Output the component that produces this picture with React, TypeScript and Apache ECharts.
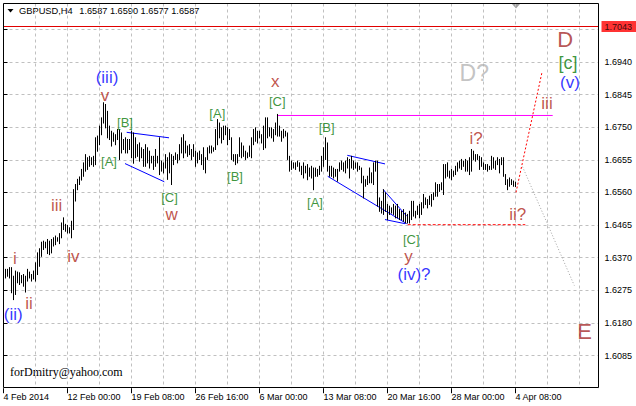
import React, { useEffect, useRef } from "react";
import * as echarts from "echarts";

// ---------- data ----------
const symbolName = "GBPUSD,H4";
const lastBarOHLC = [1.6587, 1.659, 1.6577, 1.6587];

const firstBarIndex = 1; // H4 bar number (4 Feb 2014 00:00 = 0)
const barHighs = [
  1.6336, 1.6336, 1.6341, 1.6341, 1.6316, 1.6331, 1.6328, 1.6326, 1.6318, 1.6321,
  1.6316, 1.6336, 1.6328, 1.6321, 1.6331, 1.6355, 1.6384, 1.6396, 1.6415, 1.6418,
  1.6415, 1.6423, 1.6418, 1.6423, 1.6428, 1.6433, 1.6428, 1.644, 1.6471, 1.6486,
  1.6467, 1.6464, 1.6457, 1.6476, 1.6568, 1.6583, 1.6598, 1.6605, 1.6627, 1.6646,
  1.667, 1.6661, 1.6665, 1.6661, 1.6665, 1.6719, 1.6724, 1.6753, 1.6777, 1.6821,
  1.6816, 1.6796, 1.6753, 1.6738, 1.6733, 1.6728, 1.6743, 1.6743, 1.6733, 1.6714,
  1.6719, 1.6714, 1.6714, 1.6738, 1.6733, 1.6719, 1.6699, 1.6704, 1.669, 1.6685,
  1.6699, 1.669, 1.668, 1.6665, 1.6665, 1.6685, 1.6665, 1.6719, 1.6651, 1.6646,
  1.667, 1.6661, 1.6675, 1.667, 1.6665, 1.6675, 1.667, 1.6699, 1.6719, 1.6728,
  1.6709, 1.6695, 1.6699, 1.6685, 1.6699, 1.668, 1.6675, 1.668, 1.667, 1.669,
  1.6661, 1.669, 1.6695, 1.6695, 1.669, 1.6743, 1.6772, 1.6762, 1.6748, 1.6753,
  1.6753, 1.6748, 1.6743, 1.6719, 1.667, 1.667, 1.667, 1.6719, 1.6704, 1.6695,
  1.668, 1.6675, 1.6695, 1.6719, 1.6743, 1.6748, 1.6738, 1.6738, 1.6728, 1.6753,
  1.6777, 1.6777, 1.6748, 1.6748, 1.6743, 1.6762, 1.6787, 1.6753, 1.6738, 1.6743,
  1.6738, 1.6733, 1.6665, 1.6651, 1.6646, 1.6646, 1.6651, 1.6646, 1.6636, 1.6646,
  1.6636, 1.6641, 1.6631, 1.6636, 1.6631, 1.6631, 1.6627, 1.6636, 1.6665, 1.669,
  1.6719, 1.6704, 1.6636, 1.6636, 1.6631, 1.6627, 1.6627, 1.6646, 1.6651, 1.6646,
  1.6651, 1.6661, 1.6656, 1.6665, 1.6651, 1.6646, 1.6646, 1.6636, 1.6631, 1.6607,
  1.6597, 1.6607, 1.6631, 1.6617, 1.6646, 1.6651, 1.6651, 1.6544, 1.6534, 1.6568,
  1.6559, 1.6525, 1.652, 1.6515, 1.6525, 1.652, 1.6525, 1.651, 1.6505, 1.651,
  1.65, 1.6496, 1.6505, 1.6534, 1.6534, 1.6505, 1.652, 1.6525, 1.653, 1.6554,
  1.6544, 1.6539, 1.6549, 1.6554, 1.6559, 1.6588, 1.6583, 1.6583, 1.6588, 1.6641,
  1.6641, 1.6646, 1.6622, 1.6627, 1.6622, 1.6636, 1.6646, 1.6651, 1.6656, 1.6651,
  1.6656, 1.6651, 1.6661, 1.6685, 1.668, 1.667, 1.667, 1.6665, 1.6661, 1.6646,
  1.6641, 1.6641, 1.6636, 1.6665, 1.6661, 1.6651, 1.6661, 1.6656, 1.6661, 1.6661,
  1.6612, 1.6597, 1.6602, 1.6597, 1.6593, 1.659,
];
const barLows = [
  1.6311, 1.6316, 1.6311, 1.6268, 1.6248, 1.6263, 1.6297, 1.6292, 1.6297, 1.6287,
  1.627, 1.6302, 1.6311, 1.6302, 1.6308, 1.6302, 1.6321, 1.6345, 1.6374, 1.6394,
  1.6399, 1.6382, 1.6379, 1.6384, 1.6404, 1.6408, 1.6418, 1.6411, 1.6428, 1.6452,
  1.6447, 1.6442, 1.6442, 1.6428, 1.6452, 1.6535, 1.6568, 1.6583, 1.6596, 1.6607,
  1.6622, 1.6627, 1.6636, 1.6641, 1.6636, 1.6641, 1.668, 1.6699, 1.6728, 1.6762,
  1.6748, 1.6719, 1.6714, 1.6695, 1.6709, 1.6699, 1.6714, 1.6656, 1.6675, 1.6685,
  1.6675, 1.6675, 1.6685, 1.6661, 1.6645, 1.6661, 1.6665, 1.6651, 1.6661, 1.6636,
  1.6636, 1.6646, 1.6631, 1.6646, 1.6627, 1.6636, 1.6646, 1.6612, 1.6622, 1.6617,
  1.6631, 1.6598, 1.6617, 1.6583, 1.6641, 1.6656, 1.6646, 1.6656, 1.6675, 1.6661,
  1.6675, 1.6665, 1.667, 1.6656, 1.6665, 1.6636, 1.6646, 1.6656, 1.6641, 1.6627,
  1.6617, 1.6656, 1.6675, 1.6675, 1.668, 1.6685, 1.6699, 1.6719, 1.6704, 1.6714,
  1.6728, 1.6699, 1.6714, 1.6656, 1.6651, 1.6641, 1.6646, 1.6665, 1.6661, 1.6665,
  1.6656, 1.6661, 1.6665, 1.6661, 1.6699, 1.6709, 1.6704, 1.6719, 1.6704, 1.6685,
  1.669, 1.6719, 1.6724, 1.6719, 1.6709, 1.6728, 1.6724, 1.6724, 1.6709, 1.6719,
  1.6724, 1.6656, 1.6622, 1.6627, 1.6631, 1.6627, 1.6636, 1.6622, 1.6612, 1.6602,
  1.6617, 1.6597, 1.6607, 1.6602, 1.6568, 1.6607, 1.6607, 1.6612, 1.6622, 1.6636,
  1.6656, 1.6622, 1.6607, 1.6607, 1.6602, 1.6607, 1.6593, 1.6622, 1.6627, 1.6622,
  1.6617, 1.6631, 1.6602, 1.6631, 1.6627, 1.6631, 1.6622, 1.6627, 1.6588, 1.6544,
  1.6578, 1.6583, 1.6588, 1.6588, 1.6583, 1.6622, 1.652, 1.6505, 1.65, 1.6496,
  1.6505, 1.6481, 1.6496, 1.65, 1.6496, 1.6486, 1.6486, 1.6481, 1.6481, 1.6476,
  1.6471, 1.6471, 1.6471, 1.6481, 1.6491, 1.6486, 1.6496, 1.6486, 1.6496, 1.6515,
  1.6525, 1.6515, 1.6525, 1.652, 1.6539, 1.6549, 1.6549, 1.6563, 1.6568, 1.6554,
  1.6602, 1.6607, 1.6602, 1.6597, 1.6607, 1.6612, 1.6622, 1.6631, 1.6627, 1.6636,
  1.6622, 1.6622, 1.6612, 1.6622, 1.6656, 1.6651, 1.6656, 1.6627, 1.6636, 1.6627,
  1.6627, 1.6622, 1.6627, 1.6627, 1.6631, 1.6627, 1.6641, 1.6617, 1.6641, 1.6607,
  1.6583, 1.6568, 1.6578, 1.6583, 1.6578, 1.6577,
];

const dateTickLabels = [
  "4 Feb 2014",
  "12 Feb 00:00",
  "19 Feb 08:00",
  "26 Feb 16:00",
  "6 Mar 00:00",
  "13 Mar 08:00",
  "20 Mar 16:00",
  "28 Mar 00:00",
  "4 Apr 08:00",
];
const dateTickStep = 32; // bars between date labels
const gridStep = 16; // bars between vertical grid lines
const barSlots = 297.5; // visible bar slots incl. right shift
const priceMin = 1.599;
const priceMax = 1.711;
const priceTickStep = 0.0095;

const priceLineLevel = 1.7043;

const waveLabels = [
  { text: "(iii)", k: 51.75, price: 1.6896, kind: "degree" },
  { text: "v", k: 50.75, price: 1.6841, kind: "wave" },
  { text: "[B]", k: 60.75, price: 1.6764, kind: "sub" },
  { text: "[A]", k: 52.75, price: 1.6649, kind: "sub" },
  { text: "[C]", k: 83, price: 1.6546, kind: "sub" },
  { text: "w", k: 84.1, price: 1.6496, kind: "wave" },
  { text: "[A]", k: 106.9, price: 1.679, kind: "sub" },
  { text: "[B]", k: 115.75, price: 1.6606, kind: "sub" },
  { text: "x", k: 135.9, price: 1.6882, kind: "wave" },
  { text: "[C]", k: 136.9, price: 1.6826, kind: "sub" },
  { text: "[B]", k: 161.6, price: 1.675, kind: "sub" },
  { text: "[A]", k: 155.75, price: 1.6532, kind: "sub" },
  { text: "[C]", k: 203.9, price: 1.6422, kind: "sub" },
  { text: "y", k: 202.5, price: 1.6373, kind: "wave" },
  { text: "(iv)?", k: 205.25, price: 1.6322, kind: "degree" },
  { text: "i?", k: 236.25, price: 1.6717, kind: "wave" },
  { text: "ii?", k: 257.1, price: 1.6497, kind: "wave" },
  { text: "iii", k: 271.75, price: 1.6818, kind: "wave" },
  { text: "D?", k: 235.4, price: 1.6908, kind: "ghost" },
  { text: "D", k: 280.9, price: 1.7005, kind: "major" },
  { text: "[c]", k: 282.25, price: 1.6937, kind: "subMajor" },
  { text: "(v)", k: 283.25, price: 1.6881, kind: "degree" },
  { text: "E", k: 290.6, price: 1.6156, kind: "major" },
  { text: "iii", k: 26.6, price: 1.6523, kind: "wave" },
  { text: "iv", k: 34.9, price: 1.6373, kind: "wave" },
  { text: "i", k: 5.75, price: 1.6368, kind: "wave" },
  { text: "ii", k: 12.75, price: 1.6238, kind: "wave" },
  { text: "(ii)", k: 4.9, price: 1.6204, kind: "degree" },
];

const trendLines = [
  { from: [61.6, 1.6735], to: [82.75, 1.6719], kind: "channel" },
  { from: [60.75, 1.6644], to: [80.4, 1.6591], kind: "channel" },
  { from: [171.9, 1.6668], to: [190.75, 1.6643], kind: "channel" },
  { from: [162.1, 1.6607], to: [201.6, 1.6469], kind: "channel" },
  { from: [189.9, 1.6568], to: [201.6, 1.6491], kind: "channel" },
  { from: [190.75, 1.6481], to: [200.75, 1.6469], kind: "channel" },
  { from: [137, 1.6784], to: [274.6, 1.6784], kind: "resistance" },
  { from: [202.1, 1.6466], to: [260.9, 1.6466], kind: "support" },
  { from: [256.25, 1.656], to: [269.25, 1.691], kind: "forecastUp" },
  { from: [259.5, 1.6635], to: [285.4, 1.6289], kind: "forecastDown" },
];

const creditText = "forDmitry@yahoo.com";

// ---------- component ----------
export default function App() {
  const ref = useRef<HTMLDivElement>(null);

  useEffect(() => {
    document.body.style.margin = "0";
    const chart = echarts.init(ref.current!, null, { renderer: "svg" });
    const FONT = "Liberation Sans";
    const PX_PER_PRICE = 3435;

    const lineStyles: Record<string, any> = {
      channel: { color: "#0000ff", width: 1, type: "solid" },
      resistance: { color: "#ff00ff", width: 1, type: "solid" },
      support: { color: "#ff0000", width: 1, type: [3, 2] },
      forecastUp: { color: "#ff0000", width: 1, type: [2, 2] },
      forecastDown: { color: "#a0a0a0", width: 1, type: [1, 2] },
    };
    const labelStyles: Record<string, any> = {
      wave: { color: "#b02a20", fontSize: 17 },
      degree: { color: "#0000ff", fontSize: 17 },
      sub: { color: "#0a7a0a", fontSize: 13 },
      subMajor: { color: "#0a7a0a", fontSize: 18 },
      major: { color: "#a52a2a", fontSize: 22 },
      ghost: { color: "#b4b4b4", fontSize: 23 },
    };

    const barData = barHighs.map((h, i) => [firstBarIndex + i, h, barLows[i]]);
    const xTickValues = dateTickLabels.map((_, i) => i * dateTickStep);

    const series: any[] = [
      {
        type: "custom",
        data: barData,
        encode: { x: 0, y: [1, 2] },
        z: 5,
        silent: true,
        renderItem: (_params: any, api: any) => {
          const top = api.coord([api.value(0), api.value(1)]);
          const bottom = api.coord([api.value(0), api.value(2)]);
          return {
            type: "line",
            shape: { x1: top[0], y1: top[1] - 0.5, x2: bottom[0], y2: bottom[1] + 0.5 },
            style: { stroke: "#000", lineWidth: 1 },
          };
        },
      },
      ...trendLines.map((t) => ({
        type: "line",
        data: [t.from, t.to],
        symbol: "none",
        silent: true,
        z: 4,
        lineStyle: lineStyles[t.kind],
      })),
      {
        type: "line",
        data: [
          [0, priceLineLevel],
          [barSlots + 1.5, priceLineLevel],
        ],
        symbol: "none",
        silent: true,
        clip: false,
        z: 4,
        lineStyle: { color: "#e00000", width: 1 },
      },
      {
        type: "scatter",
        data: waveLabels.map((l) => ({
          value: [l.k, l.price],
          label: {
            show: true,
            position: "inside",
            formatter: l.text,
            fontFamily: FONT,
            ...labelStyles[l.kind],
          },
        })),
        symbolSize: 1,
        itemStyle: { color: "rgba(0,0,0,0)" },
        silent: true,
        z: 6,
      },
      {
        type: "scatter",
        clip: false,
        data: [[barSlots, priceLineLevel]],
        symbolSize: 1,
        itemStyle: { color: "rgba(0,0,0,0)" },
        silent: true,
        z: 20,
        label: {
          show: true,
          position: "right",
          distance: 2.5,
          formatter: priceLineLevel.toFixed(4),
          backgroundColor: "#ff0000",
          color: "#000",
          fontSize: 9,
          fontFamily: FONT,
          lineHeight: 10,
          padding: [1, 5, 0, 3],
        },
      },
    ];

    chart.setOption({
      animation: false,
      backgroundColor: "#ffffff",
      grid: {
        left: 3.5,
        top: 3.5,
        width: 595,
        height: (priceMax - priceMin) * PX_PER_PRICE,
        show: false,
      },
      xAxis: [
        {
          type: "value",
          min: 0,
          max: barSlots,
          interval: gridStep,
          axisLine: { show: false },
          axisTick: { show: false },
          axisLabel: { show: false },
          splitLine: { show: true, lineStyle: { color: "#c0c0c0", type: [3, 3], width: 1 } },
        },
        {
          type: "value",
          min: 0,
          max: barSlots,
          interval: dateTickStep,
          position: "bottom",
          axisLine: { show: false },
          axisTick: { show: true, length: 5, lineStyle: { color: "#000" }, customValues: xTickValues },
          axisLabel: {
            customValues: xTickValues,
            formatter: (v: number) =>
              Math.abs(v % dateTickStep) < 1e-6 ? dateTickLabels[Math.round(v / dateTickStep)] ?? "" : "",
            align: "left",
            margin: 4,
            fontSize: 9,
            fontFamily: FONT,
            color: "#000",
          },
          splitLine: { show: false },
        },
      ],
      yAxis: {
        type: "value",
        position: "right",
        min: priceMin,
        max: priceMax,
        interval: priceTickStep,
        axisLine: { show: false },
        axisTick: { show: true, length: 4, lineStyle: { color: "#000" } },
        axisLabel: {
          margin: 6,
          fontSize: 9,
          fontFamily: FONT,
          color: "#000",
          showMinLabel: false,
          showMaxLabel: false,
          formatter: (v: number) => (v > 1.7 || v < 1.6 ? "" : v.toFixed(4)),
        },
        splitLine: {
          show: true,
          showMinLine: false,
          showMaxLine: false,
          lineStyle: { color: "#c0c0c0", type: [3, 3], width: 1 },
        },
      },
      graphic: [
        {
          type: "rect",
          shape: { x: 3.5, y: 3.5, width: 595, height: 384 },
          style: { fill: "none", stroke: "#000", lineWidth: 1 },
          z: 100,
          silent: true,
        },
        {
          type: "polygon",
          shape: { points: [[7.5, 9], [13.5, 9], [10.5, 12.5]] },
          style: { fill: "#000" },
          silent: true,
        },
        {
          type: "text",
          x: 19,
          y: 10.7,
          style: {
            text: symbolName,
            fontSize: 9.3,
            fontFamily: FONT,
            fill: "#000",
            verticalAlign: "middle",
            align: "left",
          },
          silent: true,
        },
        {
          type: "text",
          x: 79.3,
          y: 10.7,
          style: {
            text: lastBarOHLC.map((v) => v.toFixed(4)).join(" "),
            fontSize: 9.2,
            fontFamily: FONT,
            fill: "#000",
            verticalAlign: "middle",
            align: "left",
          },
          silent: true,
        },
        {
          type: "polygon",
          shape: { points: [[512, 4], [520, 4], [516, 8.5]] },
          style: { fill: "#a0a0a0" },
          silent: true,
        },
        {
          type: "text",
          x: 10,
          y: 371.7,
          style: {
            text: creditText,
            fontSize: 12,
            fontFamily: "Liberation Serif",
            fill: "#000",
            verticalAlign: "middle",
            align: "left",
          },
          silent: true,
        },
      ],
      series,
    });

    return () => chart.dispose();
  }, []);

  return (
    <div
      ref={ref}
      style={{ position: "absolute", left: 0, top: 0, width: 636, height: 406, background: "#fff" }}
    />
  );
}
